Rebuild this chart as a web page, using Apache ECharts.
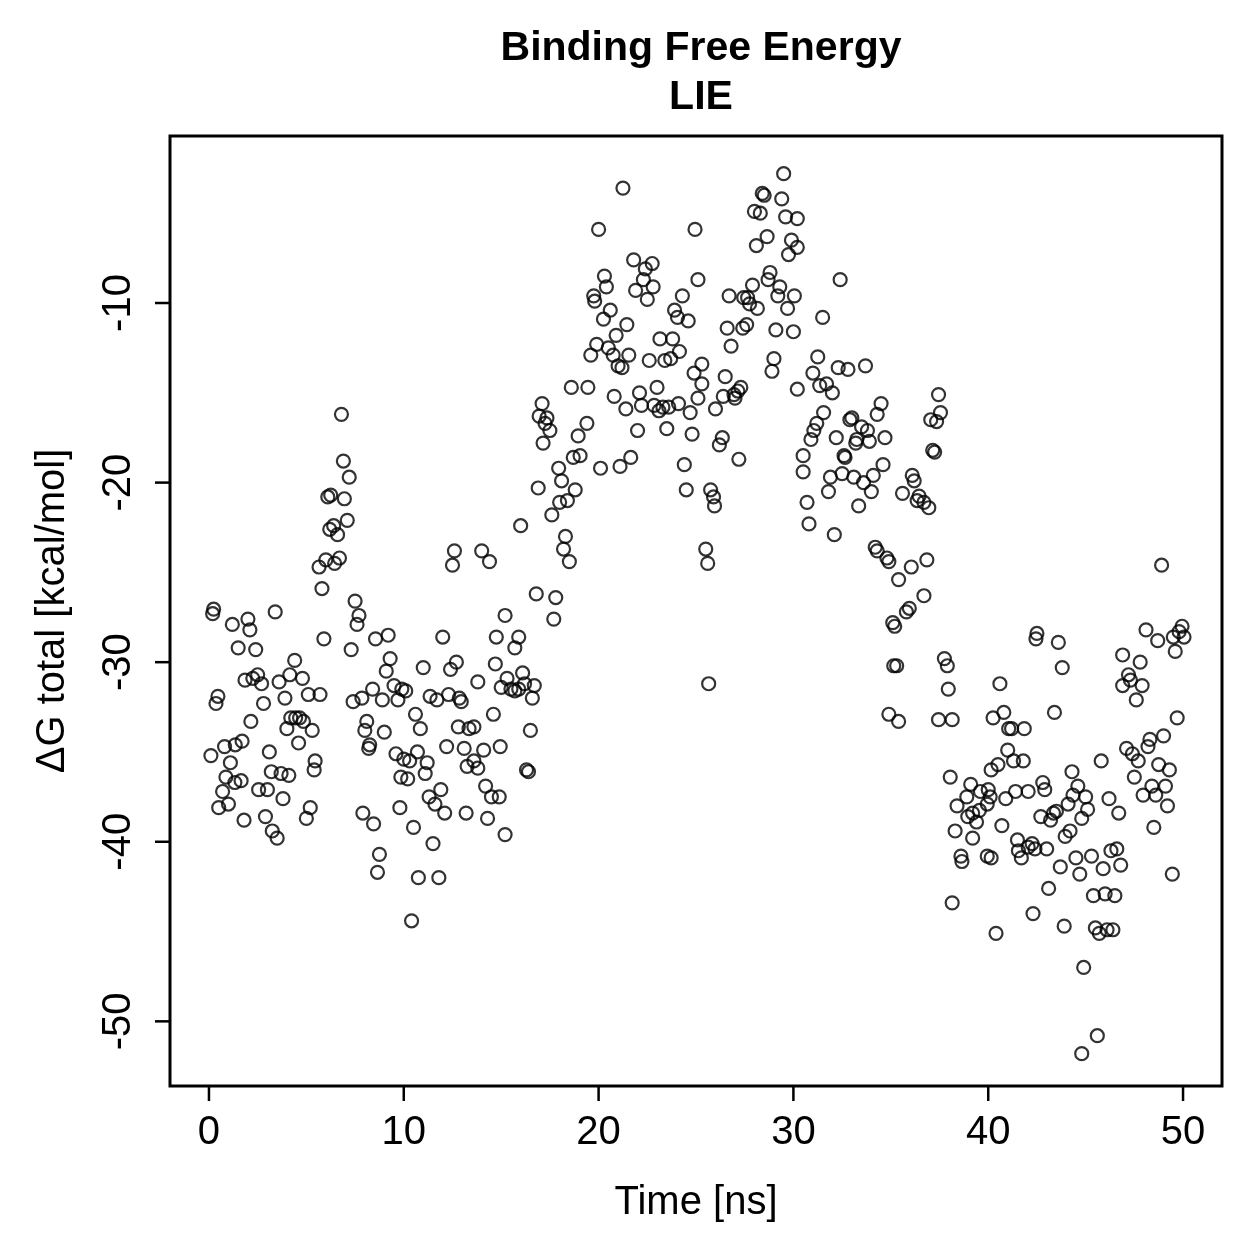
<!DOCTYPE html>
<html lang="en">
<head>
<meta charset="UTF-8">
<title>Binding Free Energy - LIE</title>
<script src="https://cdn.jsdelivr.net/npm/echarts@6/dist/echarts.min.js"></script>
<style>
  html, body { margin: 0; padding: 0; background: #fff; }
  #chart { width: 1259px; height: 1259px; }
</style>
</head>
<body>
<div id="chart"></div>
<script>
// tick positions
var xTicks = [0, 10, 20, 30, 40, 50];
var yTicks = [-50, -40, -30, -20, -10];

// [time (ns), dG total (kcal/mol)]
var samples = [
  [0.1,-35.2],[0.19,-27.3],[0.24,-27.05],[0.36,-32.3],[0.46,-31.9],[0.5,-38.1],[0.7,-37.2],[0.8,-34.7],
  [0.87,-36.4],[1.0,-37.9],[1.1,-35.6],[1.2,-27.9],[1.33,-36.7],[1.35,-34.6],[1.5,-29.2],[1.65,-36.6],
  [1.7,-34.4],[1.8,-38.8],[1.85,-31.0],[2.0,-27.6],[2.1,-28.2],[2.15,-33.3],[2.25,-30.9],[2.4,-29.3],
  [2.5,-30.7],[2.55,-37.1],[2.7,-31.2],[2.8,-32.3],[2.9,-38.6],[3.0,-37.1],[3.1,-35.0],[3.2,-36.1],
  [3.25,-39.4],[3.4,-27.2],[3.5,-39.8],[3.6,-31.1],[3.7,-36.2],[3.8,-37.6],[3.9,-32.0],[4.0,-33.7],
  [4.1,-36.3],[4.15,-30.7],[4.2,-33.1],[4.4,-29.9],[4.45,-33.1],[4.6,-34.5],[4.65,-33.1],[4.8,-30.9],
  [4.85,-33.3],
  [5.0,-38.7],[5.1,-31.8],[5.2,-38.1],[5.3,-33.8],[5.4,-36.0],[5.45,-35.5],[5.65,-24.7],[5.7,-31.8],
  [5.8,-25.9],[5.9,-28.7],[6.0,-24.3],[6.1,-20.8],[6.2,-22.6],[6.25,-20.7],[6.4,-22.4],[6.45,-24.5],
  [6.6,-22.9],[6.7,-24.2],[6.8,-16.2],[6.9,-18.8],[6.95,-20.9],[7.1,-22.1],[7.2,-19.7],[7.3,-29.3],
  [7.4,-32.2],[7.5,-26.6],[7.6,-27.9],[7.7,-27.4],[7.85,-32.0],[7.9,-38.4],[8.0,-33.8],[8.1,-33.3],
  [8.2,-34.8],[8.25,-34.6],[8.4,-31.5],[8.45,-39.0],[8.55,-28.7],[8.65,-41.7],[8.75,-40.7],[8.9,-32.1],
  [9.0,-33.9],[9.1,-30.5],[9.2,-28.5],[9.3,-29.8],[9.5,-31.3],[9.6,-35.1],[9.7,-32.1],[9.8,-38.1],
  [9.85,-36.4],[9.9,-31.5],
  [10.0,-35.4],[10.1,-31.6],[10.2,-36.5],[10.3,-35.5],[10.4,-44.4],[10.5,-39.2],[10.6,-32.9],[10.7,-35.0],
  [10.75,-42.0],[10.85,-33.7],[11.0,-30.3],[11.1,-36.2],[11.2,-35.6],[11.3,-37.5],[11.35,-31.9],[11.5,-40.1],
  [11.6,-37.9],[11.7,-32.1],[11.8,-42.0],[11.9,-37.1],[12.0,-28.6],[12.1,-38.4],[12.2,-34.7],[12.3,-31.8],
  [12.4,-30.4],[12.5,-24.6],[12.6,-23.8],[12.7,-30.0],[12.8,-33.6],[12.85,-32.0],[12.95,-32.2],[13.1,-34.8],
  [13.2,-38.4],[13.25,-35.8],[13.35,-33.7],[13.6,-33.6],[13.6,-35.5],[13.8,-31.1],[13.8,-35.9],[14.0,-23.8],
  [14.1,-34.9],[14.2,-36.9],[14.3,-38.7],[14.4,-24.4],[14.5,-37.5],[14.6,-32.9],[14.7,-30.1],[14.75,-28.6],
  [14.9,-37.5],[14.95,-34.7],
  [15.0,-31.4],[15.2,-27.4],[15.2,-39.6],[15.3,-30.9],[15.5,-31.5],[15.7,-31.6],[15.7,-29.2],[15.9,-31.5],
  [15.9,-28.6],[16.0,-22.4],[16.1,-30.6],[16.2,-31.2],[16.3,-36.0],[16.4,-36.1],[16.5,-33.8],[16.6,-32.0],
  [16.7,-31.3],[16.8,-26.2],[16.9,-20.3],[16.95,-16.3],[17.1,-15.6],[17.15,-17.8],[17.25,-16.7],[17.35,-16.4],
  [17.5,-17.1],[17.6,-21.8],[17.7,-27.6],[17.8,-26.4],[17.95,-19.2],[18.0,-21.1],[18.1,-19.9],[18.2,-23.7],
  [18.3,-23.0],[18.4,-21.0],[18.5,-24.4],[18.6,-14.7],[18.7,-18.6],[18.8,-20.4],[18.95,-17.4],[19.05,-18.5],
  [19.4,-16.7],[19.45,-14.7],[19.6,-12.9],[19.75,-9.6],[19.8,-9.9],[19.9,-12.3],
  [20.0,-5.9],[20.1,-19.2],[20.25,-10.9],[20.3,-8.5],[20.4,-9.1],[20.5,-12.5],[20.6,-10.4],[20.75,-12.9],
  [20.8,-15.2],[20.9,-11.8],[21.0,-13.5],[21.1,-19.1],[21.2,-13.6],[21.25,-3.6],[21.4,-15.9],[21.45,-11.2],
  [21.55,-12.9],[21.65,-18.6],[21.8,-7.6],[21.9,-9.3],[22.0,-17.1],[22.1,-15.0],[22.2,-15.7],[22.3,-8.7],
  [22.4,-8.1],[22.5,-9.8],[22.6,-13.2],[22.75,-7.8],[22.8,-9.1],[22.85,-15.7],[23.0,-14.7],[23.1,-16.0],
  [23.15,-12.0],[23.3,-15.8],[23.4,-13.2],[23.5,-17.0],[23.6,-15.8],[23.7,-13.1],[23.8,-12.0],[23.9,-10.4],
  [24.05,-10.8],[24.1,-15.6],[24.15,-12.7],[24.3,-9.6],[24.4,-19.0],[24.5,-20.4],[24.6,-11.0],[24.7,-16.1],
  [24.8,-17.3],[24.9,-13.9],[24.95,-5.9],
  [25.1,-8.7],[25.1,-15.3],[25.3,-13.4],[25.3,-14.5],[25.5,-23.7],[25.6,-24.5],[25.65,-31.2],[25.75,-20.4],
  [25.9,-20.8],[25.95,-21.3],[26.0,-15.9],[26.2,-17.9],[26.35,-17.5],[26.4,-15.2],[26.5,-14.1],[26.6,-11.4],
  [26.7,-9.6],[26.8,-12.4],[26.95,-15.1],[27.0,-15.3],[27.15,-14.9],[27.2,-18.7],[27.3,-14.7],[27.4,-11.4],
  [27.45,-9.7],[27.6,-11.2],[27.65,-9.7],[27.75,-10.05],[27.9,-9.0],[28.0,-4.9],[28.1,-6.8],[28.15,-10.3],
  [28.3,-5.0],[28.4,-3.9],[28.5,-4.0],[28.65,-6.3],[28.7,-8.7],[28.8,-8.3],[28.9,-13.8],[29.0,-13.1],
  [29.1,-11.5],[29.2,-9.6],[29.3,-9.1],[29.4,-4.2],[29.5,-2.8],[29.6,-5.2],[29.7,-10.3],[29.75,-7.3],
  [29.9,-6.5],[30.0,-11.6],[30.05,-9.6],
  [30.2,-5.3],[30.2,-6.9],[30.2,-14.8],[30.5,-18.5],[30.5,-19.4],[30.7,-21.1],[30.8,-22.3],[30.9,-17.6],
  [31.0,-13.9],[31.05,-17.1],[31.2,-16.7],[31.25,-13.0],[31.35,-14.6],[31.5,-10.8],[31.55,-16.1],[31.7,-14.5],
  [31.8,-20.5],[31.9,-19.7],[32.0,-15.0],[32.1,-22.9],[32.2,-17.5],[32.3,-13.6],[32.4,-8.7],[32.5,-19.5],
  [32.6,-18.5],[32.65,-18.6],[32.8,-13.7],[32.9,-16.5],[33.0,-16.4],[33.1,-19.7],[33.2,-17.8],[33.25,-17.6],
  [33.35,-21.3],[33.5,-16.9],[33.6,-20.0],[33.7,-13.5],[33.8,-17.1],[33.9,-17.7],[34.0,-20.5],[34.1,-19.6],
  [34.2,-23.6],[34.3,-23.8],[34.3,-16.2],[34.5,-15.6],[34.6,-19.0],[34.7,-17.5],[34.8,-24.2],[34.9,-24.4],
  [34.9,-32.9],
  [35.1,-27.8],[35.2,-28.0],[35.15,-30.2],[35.3,-30.2],[35.4,-25.4],[35.4,-33.3],[35.6,-20.6],[35.8,-27.2],
  [35.95,-27.0],[36.05,-24.7],[36.1,-19.6],[36.2,-19.9],[36.35,-21.0],[36.45,-20.75],[36.7,-21.1],[36.7,-26.3],
  [36.85,-24.3],[36.95,-21.4],[37.05,-16.5],[37.15,-18.2],[37.25,-18.3],[37.35,-16.6],[37.45,-15.1],[37.45,-33.2],
  [37.55,-16.1],[37.75,-29.8],[37.9,-30.2],[37.95,-31.5],[38.05,-36.4],[38.15,-33.2],[38.15,-43.4],[38.3,-39.4],
  [38.4,-38.0],[38.6,-40.8],[38.65,-41.1],[38.9,-37.5],[38.95,-38.6],[39.1,-36.8],[39.2,-38.4],[39.2,-39.8],
  [39.4,-38.9],[39.55,-38.25],[39.6,-37.2],[39.95,-37.9],
  [40.0,-37.1],[40.1,-37.5],[39.95,-40.8],[40.15,-40.9],[40.15,-36.0],[40.25,-33.1],[40.4,-45.1],[40.5,-35.7],
  [40.6,-31.2],[40.7,-39.1],[40.8,-32.8],[40.9,-37.6],[41.0,-34.9],[41.05,-33.7],[41.2,-33.7],[41.3,-35.5],
  [41.4,-37.2],[41.5,-39.9],[41.55,-40.5],[41.7,-40.9],[41.8,-35.5],[41.85,-33.7],[42.05,-37.2],[42.05,-40.3],
  [42.25,-40.1],[42.3,-44.0],[42.4,-40.4],[42.45,-28.7],[42.5,-28.4],[42.7,-38.6],[42.8,-36.7],[42.9,-37.1],
  [43.0,-40.4],[43.1,-42.6],[43.2,-38.8],[43.35,-38.4],[43.4,-32.8],[43.5,-38.3],[43.6,-28.9],[43.7,-41.4],
  [43.8,-30.3],[43.9,-44.7],[43.95,-39.7],[44.1,-37.9],[44.2,-39.4],[44.3,-36.1],[44.35,-37.4],[44.5,-40.9],
  [44.6,-36.9],[44.7,-41.8],[44.8,-38.7],[44.8,-51.8],[44.9,-47.0],[45.0,-37.5],
  [45.1,-38.2],[45.3,-40.8],[45.4,-43.0],[45.5,-44.8],[45.6,-50.8],[45.7,-45.1],[45.8,-35.5],[45.9,-41.5],
  [46.0,-42.9],[46.1,-44.9],[46.2,-37.6],[46.3,-40.5],[46.4,-44.9],[46.5,-43.0],[46.6,-40.4],[46.7,-38.4],
  [46.8,-41.3],[46.9,-29.6],[46.9,-31.3],[47.1,-34.8],[47.2,-30.7],[47.3,-31.0],[47.4,-35.1],[47.5,-36.4],
  [47.6,-32.1],[47.7,-35.5],[47.8,-30.0],[47.9,-31.3],[47.95,-37.4],[48.1,-28.2],[48.2,-34.7],[48.3,-34.3],
  [48.4,-36.9],[48.5,-39.2],[48.6,-37.4],[48.7,-28.8],[48.75,-35.7],[48.9,-24.6],[49.0,-34.1],[49.1,-36.9],
  [49.2,-38.0],[49.3,-36.0],[49.45,-41.8],[49.5,-28.6],[49.6,-29.4],[49.7,-33.1],[49.8,-28.3],[49.95,-28.0],
  [50.05,-28.6]
];

// axis ranges
var xMin = -2, xMax = 52;
var yMin = -53.6, yMax = -0.7;
var TICK_LEN = 15;

var FONT = '"Liberation Sans", Arial, Helvetica, sans-serif';

var myChart = echarts.init(document.getElementById('chart'), null, { renderer: 'canvas' });

var option = {
  backgroundColor: '#fff',
  animation: false,
  title: {
    text: 'Binding Free Energy\nLIE',
    left: 696,
    top: 19,
    textAlign: 'center',
    textStyle: {
      fontFamily: FONT,
      fontSize: 41,
      fontWeight: 'bold',
      lineHeight: 49,
      color: '#000'
    }
  },
  grid: {
    left: 170,
    right: 37,
    top: 136,
    bottom: 173,
    show: true,
    borderColor: '#000',
    borderWidth: 3,
    backgroundColor: 'transparent',
    containLabel: false,
    outerBoundsMode: 'none'
  },
  xAxis: {
    type: 'value',
    min: xMin,
    max: xMax,
    name: 'Time [ns]',
    nameLocation: 'middle',
    nameGap: 97,
    nameTextStyle: { fontFamily: FONT, fontSize: 40, color: '#000' },
    axisLine: { show: false, onZero: false },
    splitLine: { show: false },
    axisTick: { show: false },
    axisLabel: {
      customValues: xTicks,
      fontFamily: FONT,
      fontSize: 40,
      color: '#000',
      margin: 27
    }
  },
  yAxis: {
    type: 'value',
    min: yMin,
    max: yMax,
    name: 'ΔG total [kcal/mol]',
    nameLocation: 'middle',
    nameGap: 97,
    nameTextStyle: { fontFamily: FONT, fontSize: 40, color: '#000' },
    axisLine: { show: false, onZero: false },
    splitLine: { show: false },
    axisTick: { show: false },
    axisLabel: {
      customValues: yTicks,
      rotate: 90,
      fontFamily: FONT,
      fontSize: 40,
      color: '#000',
      margin: 31
    }
  },
  series: [
    {
      name: 'LIE',
      type: 'scatter',
      data: samples,
      symbol: 'circle',
      symbolSize: 13,
      silent: true,
      itemStyle: {
        color: 'rgba(0,0,0,0)',
        borderColor: '#000',
        borderWidth: 2.2
      }
    }
  ]
};

myChart.setOption(option);

// outward tick marks on the box edges, placed with the chart's own scales
var leftPx = myChart.convertToPixel({ xAxisIndex: 0 }, xMin);
var bottomPx = myChart.convertToPixel({ yAxisIndex: 0 }, yMin);
var tickLines = [];
xTicks.forEach(function (v) {
  var px = myChart.convertToPixel({ xAxisIndex: 0 }, v);
  tickLines.push({
    type: 'line',
    silent: true,
    shape: { x1: px, y1: bottomPx, x2: px, y2: bottomPx + TICK_LEN },
    style: { stroke: '#000', lineWidth: 2.5 }
  });
});
yTicks.forEach(function (v) {
  var py = myChart.convertToPixel({ yAxisIndex: 0 }, v);
  tickLines.push({
    type: 'line',
    silent: true,
    shape: { x1: leftPx, y1: py, x2: leftPx - TICK_LEN, y2: py },
    style: { stroke: '#000', lineWidth: 2.5 }
  });
});
myChart.setOption({ graphic: { elements: tickLines } });
</script>
</body>
</html>
